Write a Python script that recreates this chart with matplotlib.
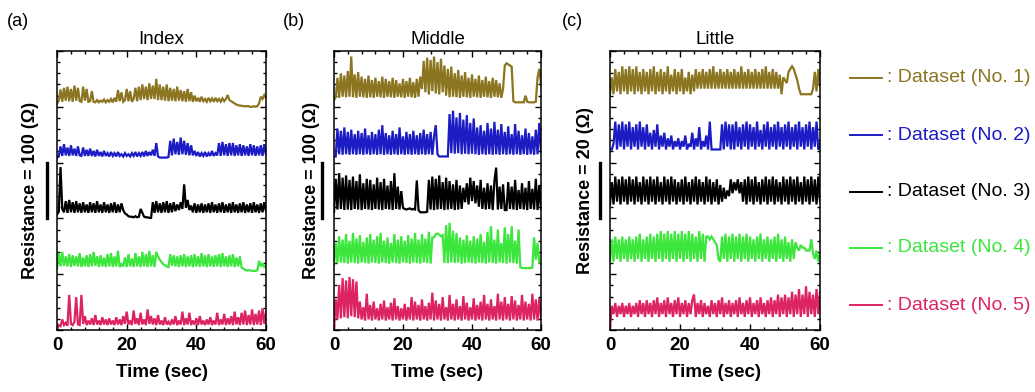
import numpy as np
import matplotlib
matplotlib.use("Agg")
import matplotlib.pyplot as plt
from matplotlib.ticker import MultipleLocator
from matplotlib.lines import Line2D
from matplotlib.transforms import blended_transform_factory

plt.rcParams['font.family'] = ['Liberation Sans', 'DejaVu Sans']

# tiempo: una muestra cada 0.5 s, de 0 a 60 s
t = np.arange(121) * 0.5

panels = ['(a)', '(b)', '(c)']
fingers = ['Index', 'Middle', 'Little']
scale_ohm = [100, 100, 20]
labels = [': Dataset (No. 1)', ': Dataset (No. 2)', ': Dataset (No. 3)',
          ': Dataset (No. 4)', ': Dataset (No. 5)']
colors = ['#8b7520', '#1c1cc4', '#000000', '#3ce63c', '#dc2463']

# ---- (a) Index : variacion sobre la linea base (Ohm) ----
index_1 = [0, 5, 25, 3, 28, 5, 30, 4, 26, 3,
           32, 5, 28, 4, 3, 30, 5, 26, 3, 4,
           22, 3, 2, 6, 2, 5, 3, 7, 2, 6,
           3, 8, 2, 10, 3, 24, 4, 20, 3, 6,
           26, 4, 22, 3, 8, 28, 4, 30, 6, 34,
           8, 30, 6, 36, 8, 32, 8, 44, 6, 34,
           6, 30, 5, 34, 4, 28, 5, 26, 4, 30,
           5, 24, 4, 22, 3, 26, 4, 20, 3, 14,
           4, 10, 3, 12, 4, 8, 3, 10, 4, 9,
           3, 10, 4, 8, 3, 9, 4, 8, 15, 6,
           4, 2, 0, -2, -3, -4, -4, -5, -5, -5,
           -5, -6, -6, -5, -6, -5, 0, 12, 8, 15,
           10]
index_2 = [0, 2, 20, 3, 24, 4, 18, 3, 22, 4,
           16, 3, 20, 4, 3, 18, 3, 14, 3, 16,
           3, 12, 2, 14, 3, 10, 2, 12, 3, 8,
           2, 10, 3, 8, 2, 10, 3, 6, 2, 8,
           3, 6, 2, 8, 3, 10, 2, 8, 3, 10,
           2, 12, 3, 10, 4, 14, 3, 26, 2, 0,
           0, 0, 0, 0, 1, 30, 4, 34, 6, 28,
           5, 36, 6, 30, 5, 26, 4, 22, 4, 12,
           3, 10, 2, 8, 3, 10, 2, 8, 3, 12,
           3, 8, 4, 26, 3, 28, 4, 24, 3, 26,
           4, 26, 3, 22, 4, 24, 3, 22, 4, 20,
           3, 24, 4, 22, 3, 20, 4, 22, 3, 24,
           5]
index_3 = [0, 5, 85, 10, 4, 24, 3, 26, 4, 22,
           3, 24, 4, 20, 3, 22, 4, 18, 3, 22,
           4, 20, 3, 24, 4, 18, 3, 22, 4, 18,
           3, 20, 4, 22, 3, 18, 4, 20, 8, 2,
           0, -3, -4, -4, -5, -3, -5, -4, 10, 3,
           -4, -5, -5, -6, -6, 22, 3, 24, 4, 20,
           3, 22, 4, 24, 3, 20, 4, 22, 6, 18,
           8, 22, 10, 54, 12, 26, 8, 16, 4, 20,
           3, 18, 4, 20, 3, 18, 4, 20, 3, 22,
           4, 18, 3, 20, 4, 22, 3, 18, 4, 20,
           3, 22, 4, 18, 3, 20, 4, 22, 3, 18,
           4, 20, 3, 22, 4, 18, 3, 20, 4, 22,
           6]
index_4 = [0, 28, 4, 30, 5, 22, 4, 26, 3, 24,
           5, 22, 4, 28, 3, 20, 4, 24, 3, 26,
           4, 30, 5, 22, 3, 24, 4, 20, 3, 26,
           4, 28, 3, 22, 4, 32, 3, 8, 4, 20,
           3, 26, 4, 18, 3, 28, 4, 22, 3, 30,
           4, 26, 3, 32, 4, 24, 3, 30, 22, 16,
           12, 8, 6, 4, 3, 26, 5, 24, 4, 22,
           3, 24, 4, 26, 3, 22, 4, 24, 3, 26,
           4, 22, 3, 28, 4, 24, 3, 26, 4, 22,
           3, 24, 4, 26, 3, 28, 4, 22, 3, 24,
           4, 26, 3, 20, 4, 22, 2, 0, -2, -3,
           -3, -3, -4, -4, -4, -3, 14, 4, 10, 3,
           4]
index_5 = [-5, 4, 2, 14, 4, 8, 3, 58, 6, 4,
           10, 54, 5, 4, 58, 6, 20, 4, 12, 5,
           16, 4, 22, 5, 12, 4, 18, 5, 14, 4,
           16, 5, 12, 4, 18, 5, 14, 4, 20, 6,
           28, 5, 12, 4, 30, 6, 16, 4, 26, 5,
           14, 4, 32, 6, 20, 5, 16, 4, 22, 5,
           12, 4, 18, 5, 10, 4, 14, 5, 20, 4,
           12, 5, 28, 4, 16, 5, 26, 4, 12, 5,
           16, 4, 20, 5, 12, 4, 14, 5, 18, 4,
           12, 5, 26, 4, 14, 5, 24, 4, 16, 5,
           20, 4, 28, 5, 18, 4, 26, 5, 30, 4,
           22, 5, 32, 4, 24, 5, 30, 4, 34, 6,
           28]

# ---- (b) Middle ----
middle_1 = [0, 5, 40, 4, 48, 6, 44, 5, 52, 6,
            78, 5, 46, 4, 50, 6, 42, 5, 38, 4,
            44, 5, 36, 4, 40, 6, 34, 5, 42, 4,
            38, 6, 34, 5, 40, 4, 36, 6, 30, 5,
            38, 4, 34, 6, 40, 5, 32, 4, 38, 6,
            42, 20, 70, 14, 76, 10, 72, 16, 78, 12,
            68, 10, 74, 14, 62, 8, 56, 5, 60, 6,
            48, 5, 54, 4, 44, 6, 50, 5, 40, 4,
            46, 6, 38, 5, 44, 4, 36, 6, 42, 5,
            34, 4, 40, 6, 36, 5, 30, 4, 20, 62,
            66, 64, 62, 60, -2, -4, -4, -4, -4, -4,
            -4, 8, -3, -4, -4, -4, -4, -3, 40, 56,
            30]
middle_2 = [0, 0, 50, 4, 46, 3, 52, 4, 44, 3,
            48, 4, 40, 3, 46, 4, 42, 3, 50, 4,
            38, 3, 44, 4, 40, 3, 48, 4, 56, 3,
            42, 4, 38, 3, 46, 4, 40, 3, 52, 4,
            36, 3, 44, 4, 40, 3, 46, 4, 38, 3,
            42, 4, 48, 3, 40, 4, 44, 3, 36, 56,
            4, 0, 0, 0, 0, 0, 0, 76, 6, 82,
            5, 70, 6, 78, 4, 66, 5, 74, 4, 60,
            5, 68, 4, 52, 3, 56, 4, 46, 3, 60,
            4, 50, 3, 62, 4, 48, 3, 58, 4, 44,
            3, 54, 4, 40, 3, 58, 4, 46, 3, 38,
            4, 50, 3, 42, 4, 36, 3, 48, 4, 60,
            8]
middle_3 = [0, 60, 5, 70, 6, 62, 4, 66, 5, 58,
            4, 64, 6, 56, 5, 68, 4, 52, 6, 60,
            5, 58, 4, 50, 6, 62, 5, 54, 4, 60,
            6, 48, 5, 56, 4, 70, 6, 46, 5, 38,
            8, 6, 5, 6, 7, 5, 6, 5, 57, 4,
            0, 0, 0, 0, 1, 58, 5, 64, 4, 60,
            5, 66, 6, 54, 4, 62, 5, 56, 6, 50,
            4, 58, 5, 48, 6, 44, 18, 52, 14, 62,
            20, 56, 16, 48, 10, 58, 6, 44, 5, 52,
            6, 48, 4, 56, 80, 5, 46, 6, 50, 4,
            4, 54, 6, 46, 5, 58, 4, 40, 6, 52,
            5, 44, 4, 56, 6, 42, 5, 60, 4, 48,
            6]
middle_4 = [0, 40, 4, 52, 5, 46, 4, 56, 3, 44,
            5, 58, 4, 48, 3, 54, 5, 42, 4, 50,
            3, 56, 5, 46, 4, 52, 3, 58, 5, 44,
            4, 50, 3, 40, 5, 56, 4, 46, 3, 52,
            5, 44, 4, 54, 3, 48, 5, 58, 4, 46,
            3, 56, 5, 48, 4, 60, 3, 50, 50, 56,
            57, 55, 52, 54, 4, 72, 4, 76, 5, 62,
            4, 58, 5, 50, 3, 46, 4, 54, 5, 44,
            4, 52, 3, 48, 5, 56, 4, 42, 3, 60,
            5, 70, 4, 46, 3, 64, 5, 40, 4, 68,
            3, 56, 5, 70, 4, 44, 3, 64, -3, -5,
            -5, -5, -5, -5, -5, -4, 50, 10, 40, 5,
            4]
middle_5 = [-11, 44, 8, 70, 10, 82, 12, 78, 10, 84,
            14, 80, 12, 76, 10, 40, 8, 30, 6, 54,
            8, 34, 6, 40, 8, 28, 6, 36, 8, 42,
            6, 30, 8, 38, 6, 46, 8, 32, 6, 28,
            8, 36, 6, 30, 8, 48, 6, 40, 8, 34,
            6, 44, 8, 32, 6, 38, 8, 56, 6, 42,
            8, 36, 6, 48, 8, 30, 6, 52, 8, 36,
            6, 44, 8, 32, 6, 50, 8, 38, 6, 30,
            8, 46, 6, 34, 8, 40, 6, 52, 8, 36,
            6, 44, 8, 32, 6, 54, 8, 40, 6, 48,
            8, 36, 6, 50, 8, 42, 6, 34, 8, 52,
            6, 40, 8, 36, 6, 54, 8, 44, 6, 46,
            10]

# ---- (c) Little ----
little_1 = [0, 6, 0, 9, 1, 8, 0, 10, 1, 9,
            0, 10, 1, 9, 0, 10, 1, 8, 0, 9,
            1, 8, 0, 9, 1, 10, 0, 8, 1, 9,
            0, 8, 1, 10, 0, 7, 1, 9, 0, 8,
            1, 9, 0, 6, 1, 8, 0, 7, 1, 9,
            2, 8, 2, 9, 2, 8, 2, 9, 2, 10,
            2, 8, 2, 9, 2, 8, 2, 9, 2, 8,
            2, 9, 2, 8, 2, 10, 2, 8, 2, 9,
            2, 8, 2, 9, 2, 8, 2, 9, 2, 10,
            2, 8, 2, 9, 2, 8, 2, 7, 0, 6,
            5, 4, 8, 9, 10, 9, 7, 5, 2, 0,
            0, 0, 0, 0, 0, 0, 2, 8, 1, 9,
            3]
little_2 = [0, 0, 2, 10, 0, 9, 1, 10, 0, 9,
            1, 10, 0, 8, 1, 9, 0, 10, 1, 8,
            0, 9, 1, 6, 0, 7, 1, 9, 0, 5,
            1, 6, 0, 4, 1, 5, 0, 3, 1, 4,
            0, 3, 1, 5, 0, 2, 1, 6, 0, 4,
            1, 8, 0, 3, 1, 5, 0, 10, 0, 0,
            0, 0, 0, 0, 9, 0, 10, 1, 9, 0,
            9, 0, 10, 1, 8, 0, 9, 1, 10, 0,
            9, 1, 8, 0, 10, 1, 7, 0, 9, 1,
            10, 0, 8, 1, 9, 0, 10, 1, 8, 0,
            9, 1, 10, 0, 8, 1, 9, 0, 10, 1,
            8, 0, 9, 1, 10, 0, 8, 1, 10, 0,
            2]
little_3 = [0, 8, 0, 10, 1, 9, 0, 10, 1, 9,
            0, 10, 1, 9, 0, 10, 1, 8, 0, 10,
            1, 9, 0, 10, 1, 9, 0, 10, 1, 8,
            0, 10, 1, 9, 0, 10, 1, 9, 0, 8,
            1, 9, 0, 10, 1, 8, 0, 9, 1, 10,
            0, 9, 1, 8, 0, 10, 1, 9, 0, 8,
            1, 9, 0, 7, 1, 6, 2, 5, 3, 9,
            4, 8, 5, 9, 4, 8, 1, 9, 0, 10,
            1, 9, 0, 10, 1, 8, 0, 9, 1, 10,
            0, 9, 1, 10, 0, 9, 1, 8, 0, 10,
            1, 9, 0, 10, 1, 9, 0, 10, 1, 8,
            0, 10, 1, 9, 0, 10, 1, 9, 0, 10,
            1]
little_4 = [0, 8, 0, 9, 1, 8, 0, 9, 1, 8,
            0, 9, 1, 8, 0, 9, 1, 10, 0, 8,
            1, 9, 0, 10, 1, 9, 0, 10, 1, 11,
            0, 10, 1, 11, 0, 10, 1, 11, 0, 10,
            1, 11, 0, 10, 1, 11, 0, 10, 1, 9,
            0, 11, 1, 10, 0, 9, 9, 8, 9, 8,
            7, 6, 1, 0, 9, 1, 10, 0, 9, 1,
            10, 0, 9, 1, 10, 0, 9, 1, 10, 0,
            9, 1, 8, 0, 9, 1, 10, 0, 8, 1,
            9, 0, 8, 1, 9, 0, 10, 1, 8, 0,
            9, 1, 7, 0, 8, 1, 7, 5, 4, 6,
            5, 5, 4, 4, 4, 8, 3, 1, 4, 0,
            3]
little_5 = [-4, 4, 1, 5, 0, 4, 1, 5, 0, 4,
            1, 5, 0, 4, 1, 5, 0, 6, 1, 5,
            0, 6, 1, 5, 0, 6, 1, 7, 0, 5,
            1, 6, 0, 7, 1, 5, 0, 6, 1, 7,
            0, 5, 1, 6, 0, 5, 1, 6, 8, 0,
            5, 1, 6, 0, 5, 1, 4, 0, 6, 1,
            5, 0, 6, 1, 7, 0, 5, 1, 6, 0,
            5, 1, 6, 0, 7, 1, 5, 0, 6, 1,
            7, 0, 5, 1, 6, 0, 7, 1, 5, 0,
            6, 1, 7, 0, 6, 1, 8, 0, 7, 1,
            8, 0, 7, 1, 9, 0, 8, 1, 10, 0,
            8, 1, 11, 0, 9, 1, 8, 0, 10, 1,
            9]

series = [
    [index_1, index_2, index_3, index_4, index_5],
    [middle_1, middle_2, middle_3, middle_4, middle_5],
    [little_1, little_2, little_3, little_4, little_5],
]
# desplazamiento vertical de cada curva (apilado)
offsets = [
    [406, 309, 207, 110, 5],
    [412, 311, 211, 116, 11],
    [84.5, 64.7, 45, 24.5, 4.7],
]

# posiciones de los ejes en la figura (izq, ancho)
ax_left = [0.0551, 0.3227, 0.5894]
ax_width = [0.2019, 0.2000, 0.2029]
bar_x = [-0.048, -0.058, -0.048]
ylab_x = [-0.125, -0.108, -0.117]
tag_x = [0.007, 0.273, 0.543]

fig = plt.figure(figsize=(10.35, 3.92), dpi=100)

for i in range(3):
    ax = fig.add_axes([ax_left[i], 0.158, ax_width[i], 0.712])
    for k in range(5):
        y = np.array(series[i][k], dtype=float) + offsets[i][k]
        assert len(y) == len(t), (i, k, len(y))
        ax.plot(t, y, color=colors[k], lw=1.6, solid_joinstyle='miter')

    s = scale_ohm[i]
    ax.set_xlim(0, 60)
    ax.set_ylim(0, 5 * s)
    ax.set_xticks([0, 20, 40, 60])
    ax.xaxis.set_minor_locator(MultipleLocator(4))
    ax.yaxis.set_major_locator(MultipleLocator(s))
    ax.yaxis.set_minor_locator(MultipleLocator(s / 5))
    ax.tick_params(which='both', direction='in', top=True, right=True,
                   labelleft=False, width=1.0)
    ax.tick_params(which='major', length=4.5, labelsize=13.5, pad=5)
    ax.tick_params(which='minor', length=2.5)
    for lab in ax.get_xticklabels():
        lab.set_fontweight('bold')
    for sp in ax.spines.values():
        sp.set_linewidth(1.1)

    ax.set_xlabel('Time (sec)', fontsize=13.5, fontweight='bold', labelpad=7)
    ax.set_title(fingers[i], fontsize=13.5, pad=5)

    # barra de escala
    tr = blended_transform_factory(ax.transAxes, ax.transData)
    ax.plot([bar_x[i], bar_x[i]], [2 * s, 3 * s], color='k', lw=2.4,
            transform=tr, clip_on=False)
    ax.text(ylab_x[i], 0.5, f'Resistance = {s} (Ω)', transform=ax.transAxes,
            rotation=90, ha='center', va='center', fontsize=13,
            fontweight='bold')

    fig.text(tag_x[i], 1 - 21 / 392, panels[i], fontsize=13,
             ha='left', va='center')

# leyenda manual a la derecha
leg_y = [78, 135, 192, 248, 305]
for k in range(5):
    yf = 1 - leg_y[k] / 392
    fig.add_artist(Line2D([850 / 1035, 882 / 1035], [yf, yf],
                          color=colors[k], lw=1.4))
    fig.text(887 / 1035, yf, labels[k], color=colors[k], fontsize=14,
             ha='left', va='center')

fig.savefig('out.png', dpi=100)
